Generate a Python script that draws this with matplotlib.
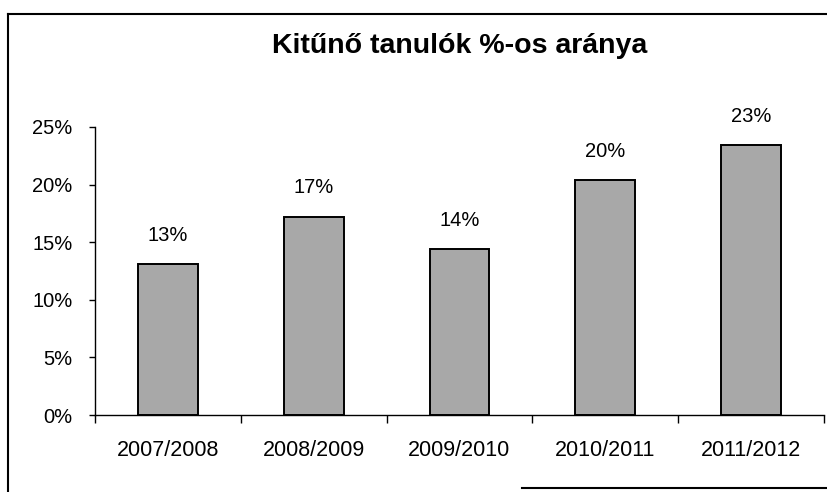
import numpy as np
import matplotlib
matplotlib.use("Agg")
from matplotlib import pyplot as plt
from matplotlib.lines import Line2D

# Data
years = ["2007/2008", "2008/2009", "2009/2010", "2010/2011", "2011/2012"]
rates = [0.131, 0.172, 0.144, 0.204, 0.234]
yticks = [0.0, 0.05, 0.10, 0.15, 0.20, 0.25]
title = "Kitűnő tanulók %-os aránya"

plt.rcParams['font.family'] = ['Liberation Sans', 'DejaVu Sans']

fig = plt.figure(figsize=(8.28, 4.92), dpi=100)
ax = fig.add_axes([0.1147, 0.1565, 0.8805, 0.5854])

x = np.arange(len(years))
ax.bar(x, rates, width=0.41, color="#a8a8a8", edgecolor="black", linewidth=1.4)

# value labels above the bars
for xi, v in zip(x, rates):
    ax.annotate("{:.0%}".format(v), (xi, v), xytext=(0, 14), textcoords="offset points",
                ha="center", va="bottom", fontsize=14.5)

ax.set_xlim(-0.5, len(years) - 0.5)
ax.set_ylim(0, 0.25)
ax.set_yticks(yticks)
ax.set_yticklabels(["{:.0%}".format(t) for t in yticks], fontsize=14.5)

# category ticks sit between the bars, labels at bar centers
ax.set_xticks(np.arange(-0.5, len(years), 1.0))
ax.set_xticklabels([])
ax.set_xticks(x, minor=True)
ax.set_xticklabels(years, minor=True, fontsize=15.5)
ax.tick_params(axis="x", which="major", direction="out", length=6, width=1)
ax.tick_params(axis="x", which="minor", length=0, pad=18)
ax.tick_params(axis="y", direction="out", length=4, width=1, pad=12)

for s in ["top", "right"]:
    ax.spines[s].set_visible(False)
for s in ["left", "bottom"]:
    ax.spines[s].set_linewidth(1.0)

fig.text(0.555, 0.906, title, ha="center", va="center", fontsize=20.5, fontweight="bold")

# outer chart frame (partly visible on the scan)
fig.add_artist(Line2D([0.0097, 0.0097], [0.0, 0.972], color="black", lw=1.5, transform=fig.transFigure))
fig.add_artist(Line2D([0.0097, 1.0], [0.972, 0.972], color="black", lw=1.5, transform=fig.transFigure))
fig.add_artist(Line2D([0.63, 1.0], [0.008, 0.008], color="black", lw=1.5, transform=fig.transFigure))

fig.savefig("out.png", dpi=100)
